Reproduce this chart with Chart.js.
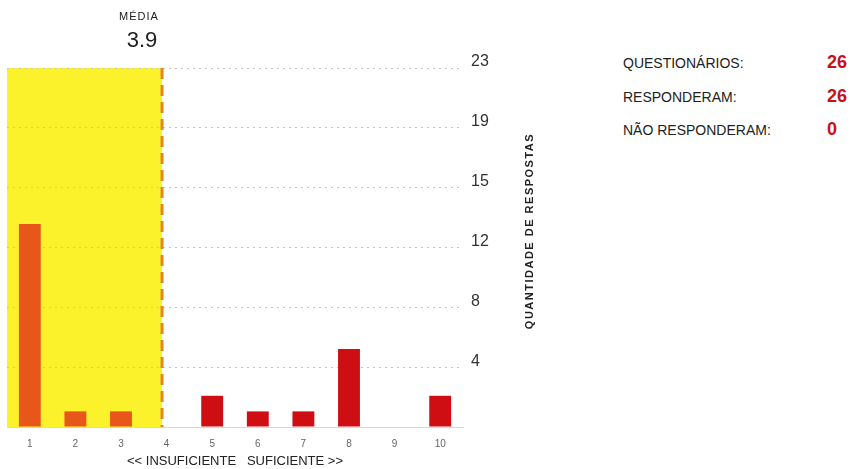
<!DOCTYPE html>
<html>
<head>
<meta charset="utf-8">
<script src="https://cdn.jsdelivr.net/npm/chart.js@4"></script>
<style>
body{margin:0;background:#fff;font-family:"Liberation Sans",Arial,sans-serif;}
#wrap{position:absolute;left:0;top:0;width:560px;height:469px;}
.resumo{position:absolute;left:623px;font-size:14px;color:#222;}
.resumo span{position:absolute;left:204px;top:-3px;font-size:18px;font-weight:bold;color:#c8101a;}
</style>
</head>
<body>
<div id="wrap"><canvas id="grafico" width="560" height="469"></canvas></div>
<div class="resumo" style="top:55px">QUESTIONÁRIOS:<span id="qQuest"></span></div>
<div class="resumo" style="top:89px">RESPONDERAM:<span id="qResp"></span></div>
<div class="resumo" style="top:122px">NÃO RESPONDERAM:<span id="qNao"></span></div>
<script>
const notas = ["1","2","3","4","5","6","7","8","9","10"];
const respostas = [13,1,1,0,2,1,1,5,0,2];
const media = 3.9;
const questionarios = 26;
const responderam = 26;
const naoResponderam = 0;

document.getElementById("qQuest").innerText = questionarios;
document.getElementById("qResp").innerText = responderam;
document.getElementById("qNao").innerText = naoResponderam;

const fonte = "'Liberation Sans', Arial, sans-serif";

// faixa amarela + linha da média
const mediaPlugin = {
  id: "media",
  beforeDraw(chart){
    const {ctx, chartArea, scales} = chart;
    const xm = scales.x.getPixelForValue(media - 1);
    ctx.save();
    ctx.fillStyle = "#fcf22c";
    ctx.fillRect(chartArea.left, chartArea.top, xm - chartArea.left, chartArea.bottom - chartArea.top);
    ctx.restore();
  },
  afterDatasetsDraw(chart){
    const {ctx, chartArea, scales} = chart;
    const xm = scales.x.getPixelForValue(media - 1);
    ctx.save();
    ctx.strokeStyle = "#e3862a";
    ctx.lineWidth = 3;
    ctx.setLineDash([11,6]);
    ctx.beginPath();
    ctx.moveTo(xm, chartArea.top);
    ctx.lineTo(xm, chartArea.bottom);
    ctx.stroke();
    ctx.setLineDash([]);

    ctx.fillStyle = "#222";
    ctx.textAlign = "center";
    ctx.textBaseline = "middle";
    ctx.letterSpacing = "1px";
    ctx.font = "11px " + fonte;
    ctx.fillText("MÉDIA", xm - 23, 17);
    ctx.letterSpacing = "0px";
    ctx.font = "22px " + fonte;
    ctx.fillText(media.toFixed(1), xm - 20, 41);

    ctx.translate(530, 231);
    ctx.rotate(-Math.PI/2);
    ctx.letterSpacing = "1.5px";
    ctx.font = "bold 11px " + fonte;
    ctx.fillText("QUANTIDADE DE RESPOSTAS", 0, 0);
    ctx.restore();
  }
};

const ctx = document.getElementById("grafico");

new Chart(ctx,{
  type:"bar",
  data:{
    labels:notas,
    datasets:[{
      data:respostas,
      backgroundColor:notas.map((n,i)=> i+1 < media ? "#e9561a" : "#cf0e14"),
      barPercentage:0.48,
      categoryPercentage:1
    }]
  },
  options:{
    responsive:false,
    animation:false,
    layout:{padding:{left:7,top:68,right:0,bottom:0}},
    plugins:{legend:{display:false},tooltip:{enabled:false}},
    scales:{
      x:{
        grid:{display:false},
        border:{color:"#d8d8d8"},
        ticks:{color:"#666",font:{size:10,family:fonte},padding:3},
        title:{display:true,text:"<< INSUFICIENTE   SUFICIENTE >>",color:"#222",font:{size:13,family:fonte},padding:{top:3,bottom:0}},
        afterFit(s){ s.height = 42; }
      },
      y:{
        position:"right",
        min:0,max:23,
        grid:{color:"#c4c4c4",drawTicks:false},
        border:{display:false,dash:[2,4]},
        ticks:{
          count:7,
          padding:8,
          labelOffset:-6,
          color:"#333",
          font:{size:16,family:fonte},
          callback:v=> v===0 ? "" : Math.round(v)
        },
        afterFit(s){ s.width = 97; }
      }
    }
  },
  plugins:[mediaPlugin]
});
</script>
</body>
</html>
